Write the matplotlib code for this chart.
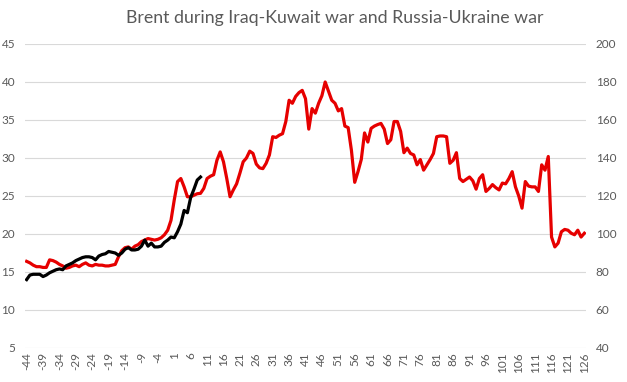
import matplotlib
matplotlib.use("Agg")
import matplotlib.pyplot as plt
import numpy as np

plt.rcParams['font.family'] = ['Lato', 'DejaVu Sans']

# Trading days relative to the start of each war
days = list(range(-44, 127))

# Brent during Iraq-Kuwait war (USD/bbl, left axis), days -44..126
iraq_kuwait = [
    16.4, 16.2, 15.9, 15.7, 15.7, 15.6, 15.6, 16.6, 16.5, 16.3,   # -44..-35
    16.0, 15.8, 15.5, 15.6, 15.8, 15.9, 15.7, 16.0, 16.2, 15.9,   # -34..-25
    15.8, 16.0, 15.9, 15.9, 15.8, 15.8, 15.9, 16.0, 17.0, 17.8,   # -24..-15
    18.2, 18.3, 18.0, 18.4, 18.6, 19.0, 19.2, 19.4, 19.3, 19.2,   # -14..-5
    19.3, 19.5, 19.9, 20.5, 21.8, 24.5, 26.9, 27.3, 26.2, 24.9,   # -4..5
    24.9, 25.1, 25.3, 25.35, 26.0, 27.3, 27.6, 27.8, 29.7, 30.8,  # 6..15
    29.5, 27.3, 24.9, 25.8, 26.6, 28.0, 29.5, 30.0, 30.9, 30.6,   # 16..25
    29.2, 28.7, 28.6, 29.3, 30.4, 32.8, 32.7, 33.0, 33.2, 34.8,   # 26..35
    37.6, 37.2, 38.1, 38.6, 38.9, 37.8, 33.8, 36.5, 35.9, 37.2,   # 36..45
    38.2, 40.0, 38.8, 37.6, 37.2, 36.2, 36.5, 34.2, 34.0, 31.0,   # 46..55
    26.8, 28.2, 29.8, 33.3, 32.1, 33.9, 34.2, 34.4, 34.55, 33.8,  # 56..65
    31.9, 32.4, 34.8, 34.8, 33.5, 30.7, 31.3, 30.6, 30.4, 29.1,   # 66..75
    29.8, 28.4, 29.1, 29.8, 30.6, 32.8, 32.9, 32.9, 32.8, 29.3,   # 76..85
    29.7, 30.7, 27.3, 26.9, 27.2, 27.5, 27.0, 25.9, 27.3, 27.8,   # 86..95
    25.6, 26.0, 26.5, 26.1, 25.8, 26.7, 26.6, 27.3, 28.2, 26.2,   # 96..105
    25.0, 23.4, 26.9, 26.3, 26.2, 26.2, 25.6, 29.1, 28.4, 30.2,   # 106..115
    19.6, 18.3, 18.8, 20.3, 20.6, 20.5, 20.1, 19.9, 20.5, 19.6,   # 116..125
    20.1,                                                         # 126
]

# Brent during Russia-Ukraine war (USD/bbl, right axis), days -44..9
russia_ukraine = [
    76.0, 78.4, 78.8, 78.8, 78.8, 77.6, 78.4, 79.6, 80.4, 81.2,
    81.6, 81.2, 83.2, 84.0, 84.8, 86.0, 86.8, 87.6, 88.0, 88.0,
    87.6, 86.4, 88.4, 89.2, 89.6, 90.8, 90.4, 90.0, 88.8, 90.0,
    92.0, 92.8, 91.6, 91.6, 92.0, 93.6, 96.8, 93.6, 95.2, 93.2,
    93.2, 93.6, 95.6, 96.8, 98.4, 98.0, 101.2, 105.2, 112.4, 111.2,
    119.2, 123.6, 128.4, 130.0,
]

x_ticks = list(range(-44, 127, 5))
left_ticks = [5, 10, 15, 20, 25, 30, 35, 40, 45]
right_ticks = [40, 60, 80, 100, 120, 140, 160, 180, 200]

title = "Brent during Iraq-Kuwait war and Russia-Ukraine war"
txt_color = "#595959"
grid_color = "#d9d9d9"

W, H = 627, 382
fig = plt.figure(figsize=(W / 100, H / 100), dpi=100)
fig.patch.set_facecolor("white")
ax = fig.add_axes([25 / W, 1 - 348 / H, (586 - 25) / W, (348 - 44) / H])
ax2 = ax.twinx()

for a in (ax, ax2):
    for s in a.spines.values():
        s.set_visible(False)
    a.tick_params(length=0, colors=txt_color, labelsize=8.5)

ax.set_ylim(5, 45)
ax.set_yticks(left_ticks)
ax2.set_ylim(40, 200)
ax2.set_yticks(right_ticks)
ax.set_xlim(-44.5, 126.5)
ax.set_xticks(x_ticks)
ax.set_xticklabels([str(t) for t in x_ticks], rotation=90)
ax.tick_params(axis='x', pad=3, labelsize=8.5)
ax.tick_params(axis='y', pad=7)
ax2.tick_params(axis='y', pad=7)

ax.grid(axis='y', color=grid_color, linewidth=0.8)
ax.set_axisbelow(True)

ax.plot(days, iraq_kuwait, color="#e60000", linewidth=2.3, solid_joinstyle='round')
ax2.plot(days[:len(russia_ukraine)], russia_ukraine, color="black",
         linewidth=2.3, solid_joinstyle='round')

fig.text(335 / W, 1 - 18 / H, title, ha='center', va='center',
         fontsize=12.8, color=txt_color)

fig.savefig("out.png", dpi=100)
